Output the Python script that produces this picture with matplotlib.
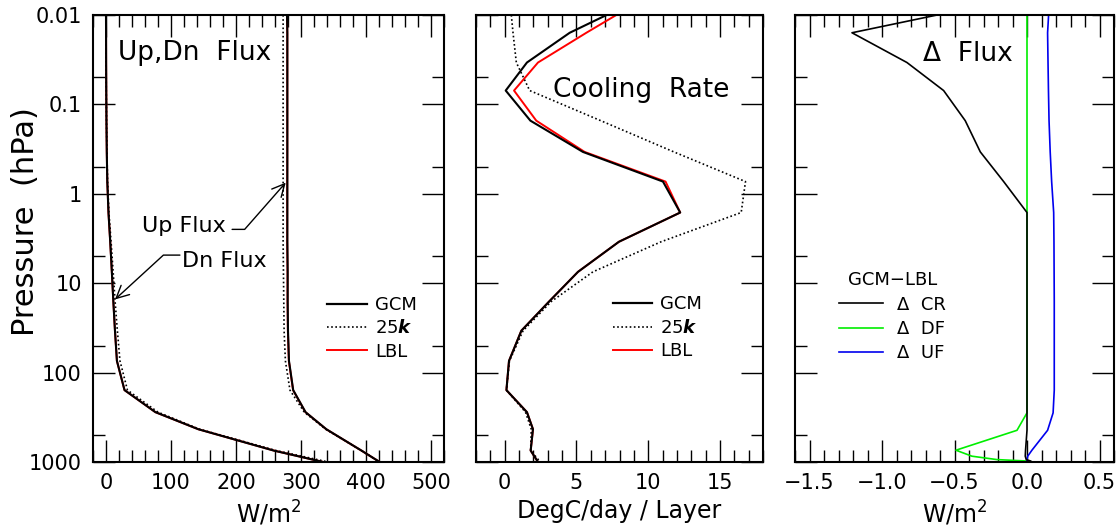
import numpy as np
import matplotlib.pyplot as plt
from matplotlib.ticker import MultipleLocator, FixedLocator, NullFormatter
from matplotlib.lines import Line2D

# pressure levels (hPa)
p_lev = [0.01, 0.0158, 0.034, 0.070, 0.152, 0.34, 0.73, 1.62, 3.44, 7.46,
         16, 34, 74, 157, 277, 430, 745, 1000]

# up / down fluxes, W/m2
dn_gcm = [0.0, 0.1, 0.2, 0.4, 0.7, 1.2, 2.0, 3.8, 6.5, 9.0,
          11.3, 13.8, 16.8, 28.5, 76, 142, 258, 334]
dn_25k = [0.0, 0.1, 0.2, 0.4, 0.8, 1.4, 2.4, 4.5, 7.8, 11.0,
          14.0, 17.5, 21.5, 33, 80, 144, 262, 342]
dn_lbl = [0.0, 0.1, 0.2, 0.4, 0.7, 1.2, 2.0, 3.8, 6.5, 9.0,
          11.3, 13.8, 16.8, 28.5, 76, 142.1, 258.4, 334.3]
up_gcm = [278.5, 279, 279, 279, 279, 279, 279, 279, 279, 279.5,
          279.5, 280, 281.5, 288, 307, 339, 393, 421]
up_25k = [272.5, 272.5, 272.5, 272.5, 272.5, 272.5, 272.5, 272.5, 272.5, 273,
          273.5, 274, 276, 283, 305, 338, 393, 421]
up_lbl = [278.4, 278.9, 278.9, 278.9, 278.9, 278.9, 278.8, 278.8, 278.8, 279.3,
          279.3, 279.8, 281.3, 287.8, 306.8, 338.8, 392.9, 421]

# cooling rates, DegC/day
cr_gcm = [7.1, 4.53, 1.55, 0.07, 1.79, 5.45, 11.03, 12.23, 7.96, 5.11,
          3.1, 1.16, 0.30, 0.12, 1.55, 1.97, 1.81, 2.32]
cr_25k = [0.46, 0.58, 0.81, 1.74, 6.69, 11.79, 16.78, 16.48, 10.9, 6.15,
          3.25, 1.28, 0.33, 0.12, 1.45, 1.85, 1.81, 2.48]
cr_lbl = [7.78, 5.69, 2.32, 0.65, 2.2, 5.57, 11.21, 12.23, 7.96, 5.11,
          3.1, 1.16, 0.30, 0.12, 1.55, 1.97, 1.81, 2.32]

# GCM - LBL differences
p_diff = [0.01, 0.0158, 0.034, 0.070, 0.152, 0.34, 0.73, 1.62, 3.44, 7.46,
          16, 34, 74, 157, 282, 442, 738, 861, 940, 975]
d_cr = [-0.62, -1.207, -0.828, -0.575, -0.426, -0.322, -0.161, 0.0, 0.0, 0.0,
        0.0, 0.0, 0.0, 0.0, 0.0, 0.0, -0.01, -0.012, -0.005, 0.025]
d_df = [0.0, 0.0, 0.0, 0.0, 0.0, 0.0, 0.0, 0.0, 0.0, 0.0,
        0.0, 0.0, 0.0, 0.0, 0.0, -0.069, -0.49, -0.38, -0.207, 0.0]
d_uf = [0.149, 0.142, 0.145, 0.148, 0.152, 0.160, 0.170, 0.184, 0.186, 0.187,
        0.188, 0.188, 0.188, 0.188, 0.180, 0.142, 0.034, 0.005, 0.0, 0.0]

y_major = [0.01, 0.1, 1, 10, 100, 1000]
y_labels = ['0.01', '0.1', '1', '10', '100', '1000']
y_minor = [0.05, 0.5, 5, 50, 500]

dots = (0, (1, 1.5))

fig = plt.figure(figsize=(11.2, 5.29), dpi=100)
bot, hgt = 1 - 462 / 529, 447 / 529
ax1 = fig.add_axes([93 / 1120, bot, 351 / 1120, hgt])
ax2 = fig.add_axes([476 / 1120, bot, 287 / 1120, hgt])
ax3 = fig.add_axes([795 / 1120, bot, 319 / 1120, hgt])


def style(ax, xlim, xticks, xlabels, xminor, left_labels):
    ax.set_yscale('log')
    ax.set_ylim(1000, 0.01)
    ax.set_xlim(*xlim)
    ax.yaxis.set_major_locator(FixedLocator(y_major))
    ax.yaxis.set_minor_locator(FixedLocator(y_minor))
    ax.yaxis.set_minor_formatter(NullFormatter())
    if left_labels:
        ax.set_yticklabels(y_labels)
    else:
        ax.set_yticklabels([])
    ax.set_xticks(xticks)
    ax.set_xticklabels(xlabels)
    ax.xaxis.set_minor_locator(MultipleLocator(xminor))
    ax.tick_params(which='both', direction='in', top=True, right=True,
                   width=1.0, labelsize=15, pad=8)
    ax.tick_params(which='major', length=16)
    ax.tick_params(which='minor', length=8.5)
    for s in ax.spines.values():
        s.set_linewidth(1.5)


# ---- panel 1: fluxes
ax1.plot(dn_lbl, p_lev, color='red', lw=1.4)
ax1.plot(up_lbl, p_lev, color='red', lw=1.4)
ax1.plot(dn_25k, p_lev, color='black', lw=1.2, ls=dots)
ax1.plot(up_25k, p_lev, color='black', lw=1.2, ls=dots)
ax1.plot(dn_gcm, p_lev, color='black', lw=1.5)
ax1.plot(up_gcm, p_lev, color='black', lw=1.5)
style(ax1, (-20, 520), [0, 100, 200, 300, 400, 500],
      ['0', '100', '200', '300', '400', '500'], 20, True)
ax1.set_xlabel('W/m$^2$', fontsize=17, labelpad=4)
ax1.set_ylabel('Pressure  (hPa)', fontsize=22)
ax1.yaxis.set_label_coords(-0.15, 0.537)
ax1.text(0.2906, 0.899, 'Up,Dn  Flux', transform=ax1.transAxes,
         ha='center', va='baseline', fontsize=19)
ax1.text(54.8, 2.66, 'Up Flux', fontsize=16, va='baseline')
ax1.text(116.3, 6.56, 'Dn Flux', fontsize=16, va='baseline')
ax1.annotate('', xy=(276.5, 0.75), xytext=(194, 2.5),
             arrowprops=dict(arrowstyle='->,head_length=0.5,head_width=0.25',
                             lw=1, color='black', shrinkA=0, shrinkB=0,
                             mutation_scale=18,
                             connectionstyle='angle,angleA=0,angleB=48.7,rad=0'))
ax1.annotate('', xy=(13.8, 15.2), xytext=(113.7, 4.85),
             arrowprops=dict(arrowstyle='->,head_length=0.5,head_width=0.25',
                             lw=1, color='black', shrinkA=0, shrinkB=0,
                             mutation_scale=18,
                             connectionstyle='angle,angleA=0,angleB=42.5,rad=0'))

h_gcm = Line2D([], [], color='black', lw=1.6, label='GCM')
h_25k = Line2D([], [], color='black', lw=1.2, ls=dots, label=r'25$\mathbfit{k}$')
h_lbl = Line2D([], [], color='red', lw=1.4, label='LBL')
leg_kw = dict(frameon=False, loc='center left', borderpad=0, borderaxespad=0,
              handlelength=2.2, handletextpad=0.45, labelspacing=0.3,
              fontsize=13)
ax1.legend(handles=[h_gcm, h_25k, h_lbl], bbox_to_anchor=(0.667, 0.299), **leg_kw)

# ---- panel 2: cooling rate
ax2.plot(cr_lbl, p_lev, color='red', lw=1.4)
ax2.plot(cr_25k, p_lev, color='black', lw=1.2, ls=dots)
ax2.plot(cr_gcm, p_lev, color='black', lw=1.5)
style(ax2, (-2, 18), [0, 5, 10, 15], ['0', '5', '10', '15'], 1, False)
ax2.set_xlabel('DegC/day / Layer', fontsize=17, labelpad=4)
ax2.text(0.577, 0.817, 'Cooling  Rate', transform=ax2.transAxes,
         ha='center', va='baseline', fontsize=19)
ax2.legend(handles=[h_gcm, h_25k, h_lbl], bbox_to_anchor=(0.476, 0.300), **leg_kw)

# ---- panel 3: differences
ax3.plot(d_df, p_diff, color='#00ee00', lw=1.2)
ax3.plot(d_uf, p_diff, color='#0000ee', lw=1.2)
ax3.plot(d_cr, p_diff, color='black', lw=1.2)
style(ax3, (-1.6, 0.6), [-1.5, -1.0, -0.5, 0.0, 0.5],
      ['\u22121.5', '\u22121.0', '\u22120.5', '0.0', '0.5'], 0.1, False)
ax3.set_xlabel('W/m$^2$', fontsize=17, labelpad=4)
ax3.text(0.543, 0.898, '\u0394  Flux', transform=ax3.transAxes,
         ha='center', va='baseline', fontsize=19)
d_h = [Line2D([], [], color='black', lw=1.2, label='\u0394  CR'),
       Line2D([], [], color='#00ee00', lw=1.2, label='\u0394  DF'),
       Line2D([], [], color='#0000ee', lw=1.2, label='\u0394  UF')]
kw3 = dict(leg_kw)
kw3.update(handlelength=2.44, handletextpad=0.75, labelspacing=0.35)
ax3.legend(handles=d_h, title='GCM\u2212LBL', title_fontsize=13,
           bbox_to_anchor=(0.139, 0.325), **kw3)

fig.savefig('out.png', dpi=100)
